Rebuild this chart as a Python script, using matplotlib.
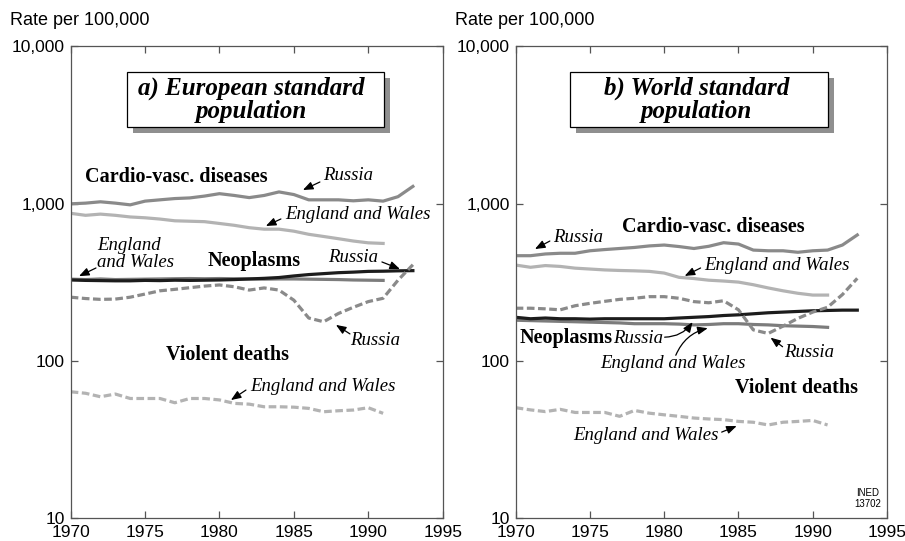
import matplotlib
matplotlib.use("Agg")
import matplotlib.pyplot as plt
from matplotlib.patches import Rectangle
from matplotlib.ticker import FixedLocator, NullLocator
import numpy as np

# ---- data: age-standardised death rates per 100,000 ----
years_ru = np.arange(1970, 1994)
years_ew = np.arange(1970, 1992)

# a) European standard population
eu_cvd_ru = [1000, 1010, 1030, 1010, 985, 1040, 1060, 1080, 1090, 1120, 1160, 1130,
             1095, 1130, 1190, 1145, 1060, 1060, 1060, 1045, 1060, 1040, 1110, 1290]
eu_cvd_ew = [870, 845, 860, 845, 825, 815, 800, 780, 775, 770, 750, 730,
             705, 690, 690, 670, 640, 620, 600, 580, 565, 560]
eu_neo_ru = [328, 326, 325, 324, 324, 326, 325, 327, 326, 327, 328, 330,
             333, 336, 340, 348, 355, 360, 365, 368, 372, 373, 375, 376]
eu_neo_ew = [332, 330, 333, 330, 331, 332, 333, 334, 335, 334, 335, 334,
             333, 332, 333, 333, 332, 331, 330, 328, 327, 326]
eu_vio_ru = [255, 250, 247, 248, 255, 267, 280, 286, 293, 300, 305, 297,
             283, 292, 283, 244, 188, 178, 201, 220, 239, 251, 327, 410]
eu_vio_ew = [63.9, 62.5, 59.4, 61.8, 57.9, 57.9, 57.9, 54.4, 57.9, 57.9, 56.7, 53.9,
             53.3, 51.3, 51.3, 51.0, 50.1, 47.7, 48.4, 48.9, 50.6, 46.6]

# b) World standard population
wd_cvd_ru = [468, 468, 480, 485, 485, 503, 512, 520, 528, 540, 547, 535,
             520, 537, 566, 555, 508, 503, 503, 492, 503, 508, 547, 634]
wd_cvd_ew = [408, 395, 405, 400, 390, 385, 380, 377, 375, 372, 363, 341,
             335, 327, 323, 318, 306, 292, 280, 270, 263, 263]
wd_neo_ru = [190, 186, 188, 186, 186, 185, 186, 186, 186, 186, 186, 188,
             190, 192, 195, 197, 200, 203, 205, 207, 209, 210, 211, 211]
wd_neo_ew = [182, 181, 180, 179, 178, 177, 176, 175, 173, 173, 173, 172,
             170, 171, 173, 173, 171, 170, 168, 167, 166, 164]
wd_vio_ru = [217, 217, 215, 212, 225, 233, 240, 247, 251, 257, 257, 251,
             239, 235, 242, 212, 158, 150, 167, 187, 205, 220, 265, 336]
wd_vio_ew = [50.6, 49.0, 47.8, 49.4, 47.2, 47.2, 47.2, 44.6, 48.6, 46.7, 45.6, 44.6,
             43.5, 42.9, 42.5, 41.4, 40.9, 39.3, 40.9, 41.4, 42.0, 39.3]

y_ticks = [10, 100, 1000, 10000]
y_ticklabels = ["10", "100", "1,000", "10,000"]
x_ticks = [1970, 1975, 1980, 1985, 1990, 1995]

# ---- styles ----
SANS = "Liberation Sans"
SERIF = "Liberation Serif"
C_RU_CVD = "#8a8a8a"
C_EW_CVD = "#b3b3b3"
C_RU_NEO = "#1c1c1c"
C_EW_NEO = "#7c7c7c"
C_RU_VIO = "#8a8a8a"
C_EW_VIO = "#b3b3b3"
C_AXIS = "#555555"
LW = 2.3
DASH = (2.4, 1.1)

fig = plt.figure(figsize=(9.05, 5.41), dpi=100)
fig.patch.set_facecolor("white")

ax_a = fig.add_axes([0.0781, 0.0416, 0.4110, 0.8725])
ax_b = fig.add_axes([0.5698, 0.0416, 0.4103, 0.8725])


def style_axes(ax):
    ax.set_yscale("log")
    ax.set_xlim(1970, 1995)
    ax.set_ylim(10, 10000)
    ax.yaxis.set_major_locator(FixedLocator(y_ticks))
    ax.yaxis.set_minor_locator(NullLocator())
    ax.set_yticklabels(y_ticklabels)
    ax.set_xticks(x_ticks)
    ax.tick_params(direction="in", length=5, width=0.9, color=C_AXIS,
                   top=True, right=True, labelsize=12.5, pad=4)
    ax.tick_params(axis="x", pad=5)
    for lab in ax.get_xticklabels() + ax.get_yticklabels():
        lab.set_fontfamily(SANS)
    for sp in ax.spines.values():
        sp.set_color(C_AXIS)
        sp.set_linewidth(0.9)


def draw_lines(ax, cvd_ru, cvd_ew, neo_ru, neo_ew, vio_ru, vio_ew):
    kw = dict(lw=LW, solid_joinstyle="round", dash_joinstyle="round")
    ax.plot(years_ew, cvd_ew, color=C_EW_CVD, **kw)
    ax.plot(years_ru, cvd_ru, color=C_RU_CVD, **kw)
    ax.plot(years_ew, neo_ew, color=C_EW_NEO, **kw)
    ax.plot(years_ru, neo_ru, color=C_RU_NEO, **kw)
    ax.plot(years_ew, vio_ew, color=C_EW_VIO, dashes=DASH, **kw)
    ax.plot(years_ru, vio_ru, color=C_RU_VIO, dashes=DASH, **kw)


def title_box(ax, x0, x1, tx, text):
    y0, y1 = 0.829, 0.946
    dx, dy = 0.016, 0.0125
    ax.add_patch(Rectangle((x0 + dx, y0 - dy), x1 - x0, y1 - y0, transform=ax.transAxes,
                           facecolor="#8f8f8f", edgecolor="none", zorder=4))
    ax.add_patch(Rectangle((x0, y0), x1 - x0, y1 - y0, transform=ax.transAxes,
                           facecolor="white", edgecolor="black", lw=0.9, zorder=5))
    ax.text(tx, (y0 + y1) / 2, text, transform=ax.transAxes, ha="center", va="center",
            fontsize=18, fontweight="bold", style="italic", family=SERIF,
            linespacing=1.0, zorder=6)


def label(ax, x, y, text, bold=False, **kw):
    if bold:
        ax.text(x, y, text, family=SERIF, fontweight="bold", fontsize=14.5,
                ha="left", va="center", **kw)
    else:
        ax.text(x, y, text, family=SERIF, style="italic", fontsize=13.5,
                ha="left", va="center", **kw)


def pointer(ax, start, end, rad=0.0):
    ax.annotate("", xy=end, xytext=start,
                arrowprops=dict(arrowstyle="-|>,head_length=0.6,head_width=0.24",
                                color="black", lw=0.9, shrinkA=0, shrinkB=0,
                                connectionstyle=f"arc3,rad={rad}"))


for ax in (ax_a, ax_b):
    style_axes(ax)

draw_lines(ax_a, eu_cvd_ru, eu_cvd_ew, eu_neo_ru, eu_neo_ew, eu_vio_ru, eu_vio_ew)
draw_lines(ax_b, wd_cvd_ru, wd_cvd_ew, wd_neo_ru, wd_neo_ew, wd_vio_ru, wd_vio_ew)

title_box(ax_a, 0.151, 0.842, 0.485, "a) European standard\npopulation")
title_box(ax_b, 0.146, 0.841, 0.488, "b) World standard\npopulation")

# --- panel a labels ---
label(ax_a, 1970.96, 1479, "Cardio-vasc. diseases", bold=True)
label(ax_a, 1986.95, 1524, "Russia")
pointer(ax_a, (1986.75, 1376), (1985.61, 1224))
label(ax_a, 1984.4, 849, "England and Wales")
pointer(ax_a, (1984.13, 801), (1983.12, 723))
ax_a.text(1971.77, 480, "England\nand Wales", family=SERIF, style="italic",
          fontsize=13.5, ha="left", va="center", linespacing=0.95)
pointer(ax_a, (1971.7, 391), (1970.56, 347))
label(ax_a, 1979.23, 433, "Neoplasms", bold=True)
label(ax_a, 1987.29, 459, "Russia")
pointer(ax_a, (1990.92, 427), (1992.13, 385))
label(ax_a, 1988.77, 136, "Russia")
pointer(ax_a, (1988.77, 149), (1987.83, 170))
label(ax_a, 1976.40, 109, "Violent deaths", bold=True)
label(ax_a, 1982.05, 69.5, "England and Wales")
pointer(ax_a, (1981.78, 65.5), (1980.77, 56.6))

# --- panel b labels ---
label(ax_b, 1977.14, 712, "Cardio-vasc. diseases", bold=True)
label(ax_b, 1972.51, 615, "Russia")
pointer(ax_b, (1972.30, 580), (1971.30, 516))
label(ax_b, 1982.72, 408, "England and Wales")
pointer(ax_b, (1982.45, 391), (1981.38, 348))
label(ax_b, 1970.29, 140, "Neoplasms", bold=True)
label(ax_b, 1976.54, 140, "Russia")
pointer(ax_b, (1980.03, 142), (1981.91, 177), rad=0.25)
label(ax_b, 1975.67, 97.3, "England and Wales")
pointer(ax_b, (1980.78, 109), (1982.93, 162), rad=-0.25)
label(ax_b, 1988.10, 113, "Russia")
pointer(ax_b, (1987.97, 123.5), (1987.16, 141))
label(ax_b, 1984.74, 67.5, "Violent deaths", bold=True)
label(ax_b, 1973.85, 33.9, "England and Wales")
pointer(ax_b, (1983.87, 35.4), (1984.88, 38.7))

ax_b.text(0.949, 0.042, "INED\n13702", transform=ax_b.transAxes, family=SANS,
          fontsize=7, ha="center", va="center", linespacing=1.15)

fig.text(0.011, 0.963, "Rate per 100,000", family=SANS, fontsize=13, ha="left", va="center")
fig.text(0.503, 0.963, "Rate per 100,000", family=SANS, fontsize=13, ha="left", va="center")

fig.savefig("out.png", dpi=100, facecolor="white")
plt.close(fig)
